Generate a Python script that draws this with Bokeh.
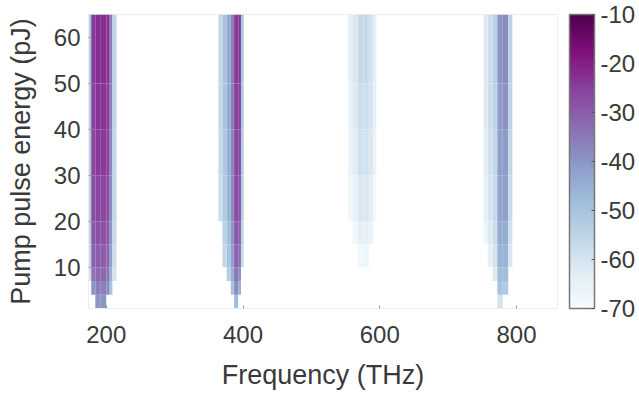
from bokeh.plotting import figure
from bokeh.models import (ColumnDataSource, LinearColorMapper, ColorBar,
                          FixedTicker, Range1d, PrintfTickFormatter)
from bokeh.palettes import BuPu9
from bokeh.embed import file_html
from bokeh.resources import INLINE

FONT = "Liberation Sans"
TEXT = "#3a3a3a"

FREQ_TICKS = [200, 400, 600, 800]
ENERGY_TICKS = [10, 20, 30, 40, 50, 60]
LEVEL_TICKS = [-70, -60, -50, -40, -30, -20, -10]

# Pump energy bin edges (pJ), shared by every harmonic; rows below go lowest bin first
ENERGY_EDGES = [1, 4, 7, 10, 15, 20, 30, 40, 50, 65]

# Fundamental (~195 THz): frequency strip edges (THz) and level (dB) per energy bin
H1_FREQ = [175, 178, 184, 192, 200, 205, 209, 215]
H1_LEVEL = [
    [None, None, -40, -40, None, None, None],
    [None, -40, -36, -36, -38, -50, None],
    [-58, -34, -32, -32, -34, -45, -60],
    [-55, -31, -30, -30, -31, -42, -58],
    [-53, -29, -28, -28, -29, -40, -57],
    [-52, -27, -26, -26, -27, -38, -56],
    [-51, -26, -24, -24, -25, -37, -56],
    [-50, -25, -23, -23, -24, -36, -55],
    [-50, -24, -22, -22, -23, -35, -55],
]

# Second harmonic (~390 THz)
H2_FREQ = [364, 370, 376, 382, 387, 393, 397, 401]
H2_LEVEL = [
    [None, None, None, None, -48, None, None],
    [None, None, None, -50, -38, -45, None],
    [None, None, -53, -45, -34, -38, None],
    [None, -56, -50, -42, -31, -33, -57],
    [None, -54, -48, -40, -29, -30, -55],
    [-58, -52, -46, -38, -27, -28, -53],
    [-57, -51, -45, -37, -26, -26, -52],
    [-56, -50, -44, -36, -25, -25, -51],
    [-56, -50, -44, -36, -24, -24, -50],
]

# Third harmonic (~575 THz)
H3_FREQ = [554, 560, 568, 576, 584, 590, 595]
H3_LEVEL = [
    [None, None, None, None, None, None],
    [None, None, None, None, None, None],
    [None, None, None, None, None, None],
    [None, None, -68, -67, None, None],
    [None, -68, -64, -64, -66, None],
    [-68, -65, -61, -61, -63, -68],
    [-66, -63, -59, -59, -61, -66],
    [-65, -62, -58, -58, -60, -65],
    [-64, -61, -57, -57, -59, -64],
]

# Fourth harmonic (~780 THz)
H4_FREQ = [752, 758, 765, 772, 780, 788, 794]
H4_LEVEL = [
    [None, None, None, -60, None, None],
    [None, None, None, -50, -52, None],
    [None, None, -62, -48, -48, None],
    [None, -64, -60, -46, -46, -61],
    [-67, -62, -58, -44, -44, -59],
    [-65, -60, -57, -43, -42, -57],
    [-63, -59, -56, -42, -41, -56],
    [-62, -58, -55, -41, -39, -55],
    [-62, -58, -54, -40, -38, -54],
]

HARMONICS = [(H1_FREQ, H1_LEVEL), (H2_FREQ, H2_LEVEL),
             (H3_FREQ, H3_LEVEL), (H4_FREQ, H4_LEVEL)]

# one quad per (energy bin, frequency strip) cell that carries a level
cells = dict(left=[], right=[], bottom=[], top=[], level=[])
for freq, levels in HARMONICS:
    for i, row in enumerate(levels):
        for j, lvl in enumerate(row):
            if lvl is None:
                continue
            cells["left"].append(freq[j])
            cells["right"].append(freq[j + 1])
            cells["bottom"].append(ENERGY_EDGES[i])
            cells["top"].append(ENERGY_EDGES[i + 1])
            cells["level"].append(lvl)
source = ColumnDataSource(cells)


def smooth_palette(anchors, n=256):
    """Blend the anchor colours into an n-step palette."""
    rgb = [tuple(int(c[k:k + 2], 16) for k in (1, 3, 5)) for c in anchors]
    out = []
    for s in range(n):
        t = s / (n - 1) * (len(rgb) - 1)
        a = min(int(t), len(rgb) - 2)
        f = t - a
        c = tuple(round(rgb[a][k] + (rgb[a + 1][k] - rgb[a][k]) * f) for k in range(3))
        out.append("#%02x%02x%02x" % c)
    return out


# white -> blue -> purple, low levels light
anchors = list(BuPu9)
if anchors[0].lower() < anchors[-1].lower():
    anchors = anchors[::-1]
mapper = LinearColorMapper(palette=smooth_palette(anchors), low=-70, high=-10)

p = figure(frame_width=469, frame_height=294,
           x_range=Range1d(174, 860), y_range=Range1d(1, 65),
           output_backend="svg", toolbar_location=None,
           min_border_left=88, min_border_top=14, min_border_bottom=87,
           min_border_right=82, background_fill_color="white",
           border_fill_color="white")
p.outline_line_color = "#eeeeee"
p.grid.visible = False

p.quad(left="left", right="right", bottom="bottom", top="top", source=source,
       fill_color={"field": "level", "transform": mapper}, line_color=None)

for ax in (p.xaxis[0], p.yaxis[0]):
    ax.axis_line_color = "#eeeeee"
    ax.major_tick_line_color = "#9a9a9a"
    ax.major_tick_in = 3
    ax.major_tick_out = 0
    ax.minor_tick_line_color = None
    ax.major_label_text_font = FONT
    ax.major_label_text_font_size = "24px"
    ax.major_label_text_color = TEXT
    ax.axis_label_text_font = FONT
    ax.axis_label_text_font_size = "27px"
    ax.axis_label_text_font_style = "normal"
    ax.axis_label_text_color = TEXT

p.xaxis[0].ticker = FixedTicker(ticks=FREQ_TICKS)
p.yaxis[0].ticker = FixedTicker(ticks=ENERGY_TICKS)
p.xaxis[0].axis_label = "Frequency (THz)"
p.yaxis[0].axis_label = "Pump pulse energy (pJ)"
p.xaxis[0].major_label_standoff = 17
p.xaxis[0].axis_label_standoff = 14
p.yaxis[0].major_label_standoff = 8
p.yaxis[0].axis_label_standoff = 15

cbar = ColorBar(color_mapper=mapper, ticker=FixedTicker(ticks=LEVEL_TICKS),
                formatter=PrintfTickFormatter(format="%d"),
                width=25, height=294, padding=0, margin=0, location=(12, 0),
                bar_line_color="#777777", bar_line_width=1.5,
                major_tick_line_color="#555555", major_tick_in=3, major_tick_out=0,
                minor_tick_line_color=None, label_standoff=6,
                major_label_text_font=FONT, major_label_text_font_size="24px",
                major_label_text_color=TEXT, background_fill_alpha=0,
                border_line_color=None)
p.add_layout(cbar, "right")

open("out.html", "w").write(file_html(p, INLINE))
